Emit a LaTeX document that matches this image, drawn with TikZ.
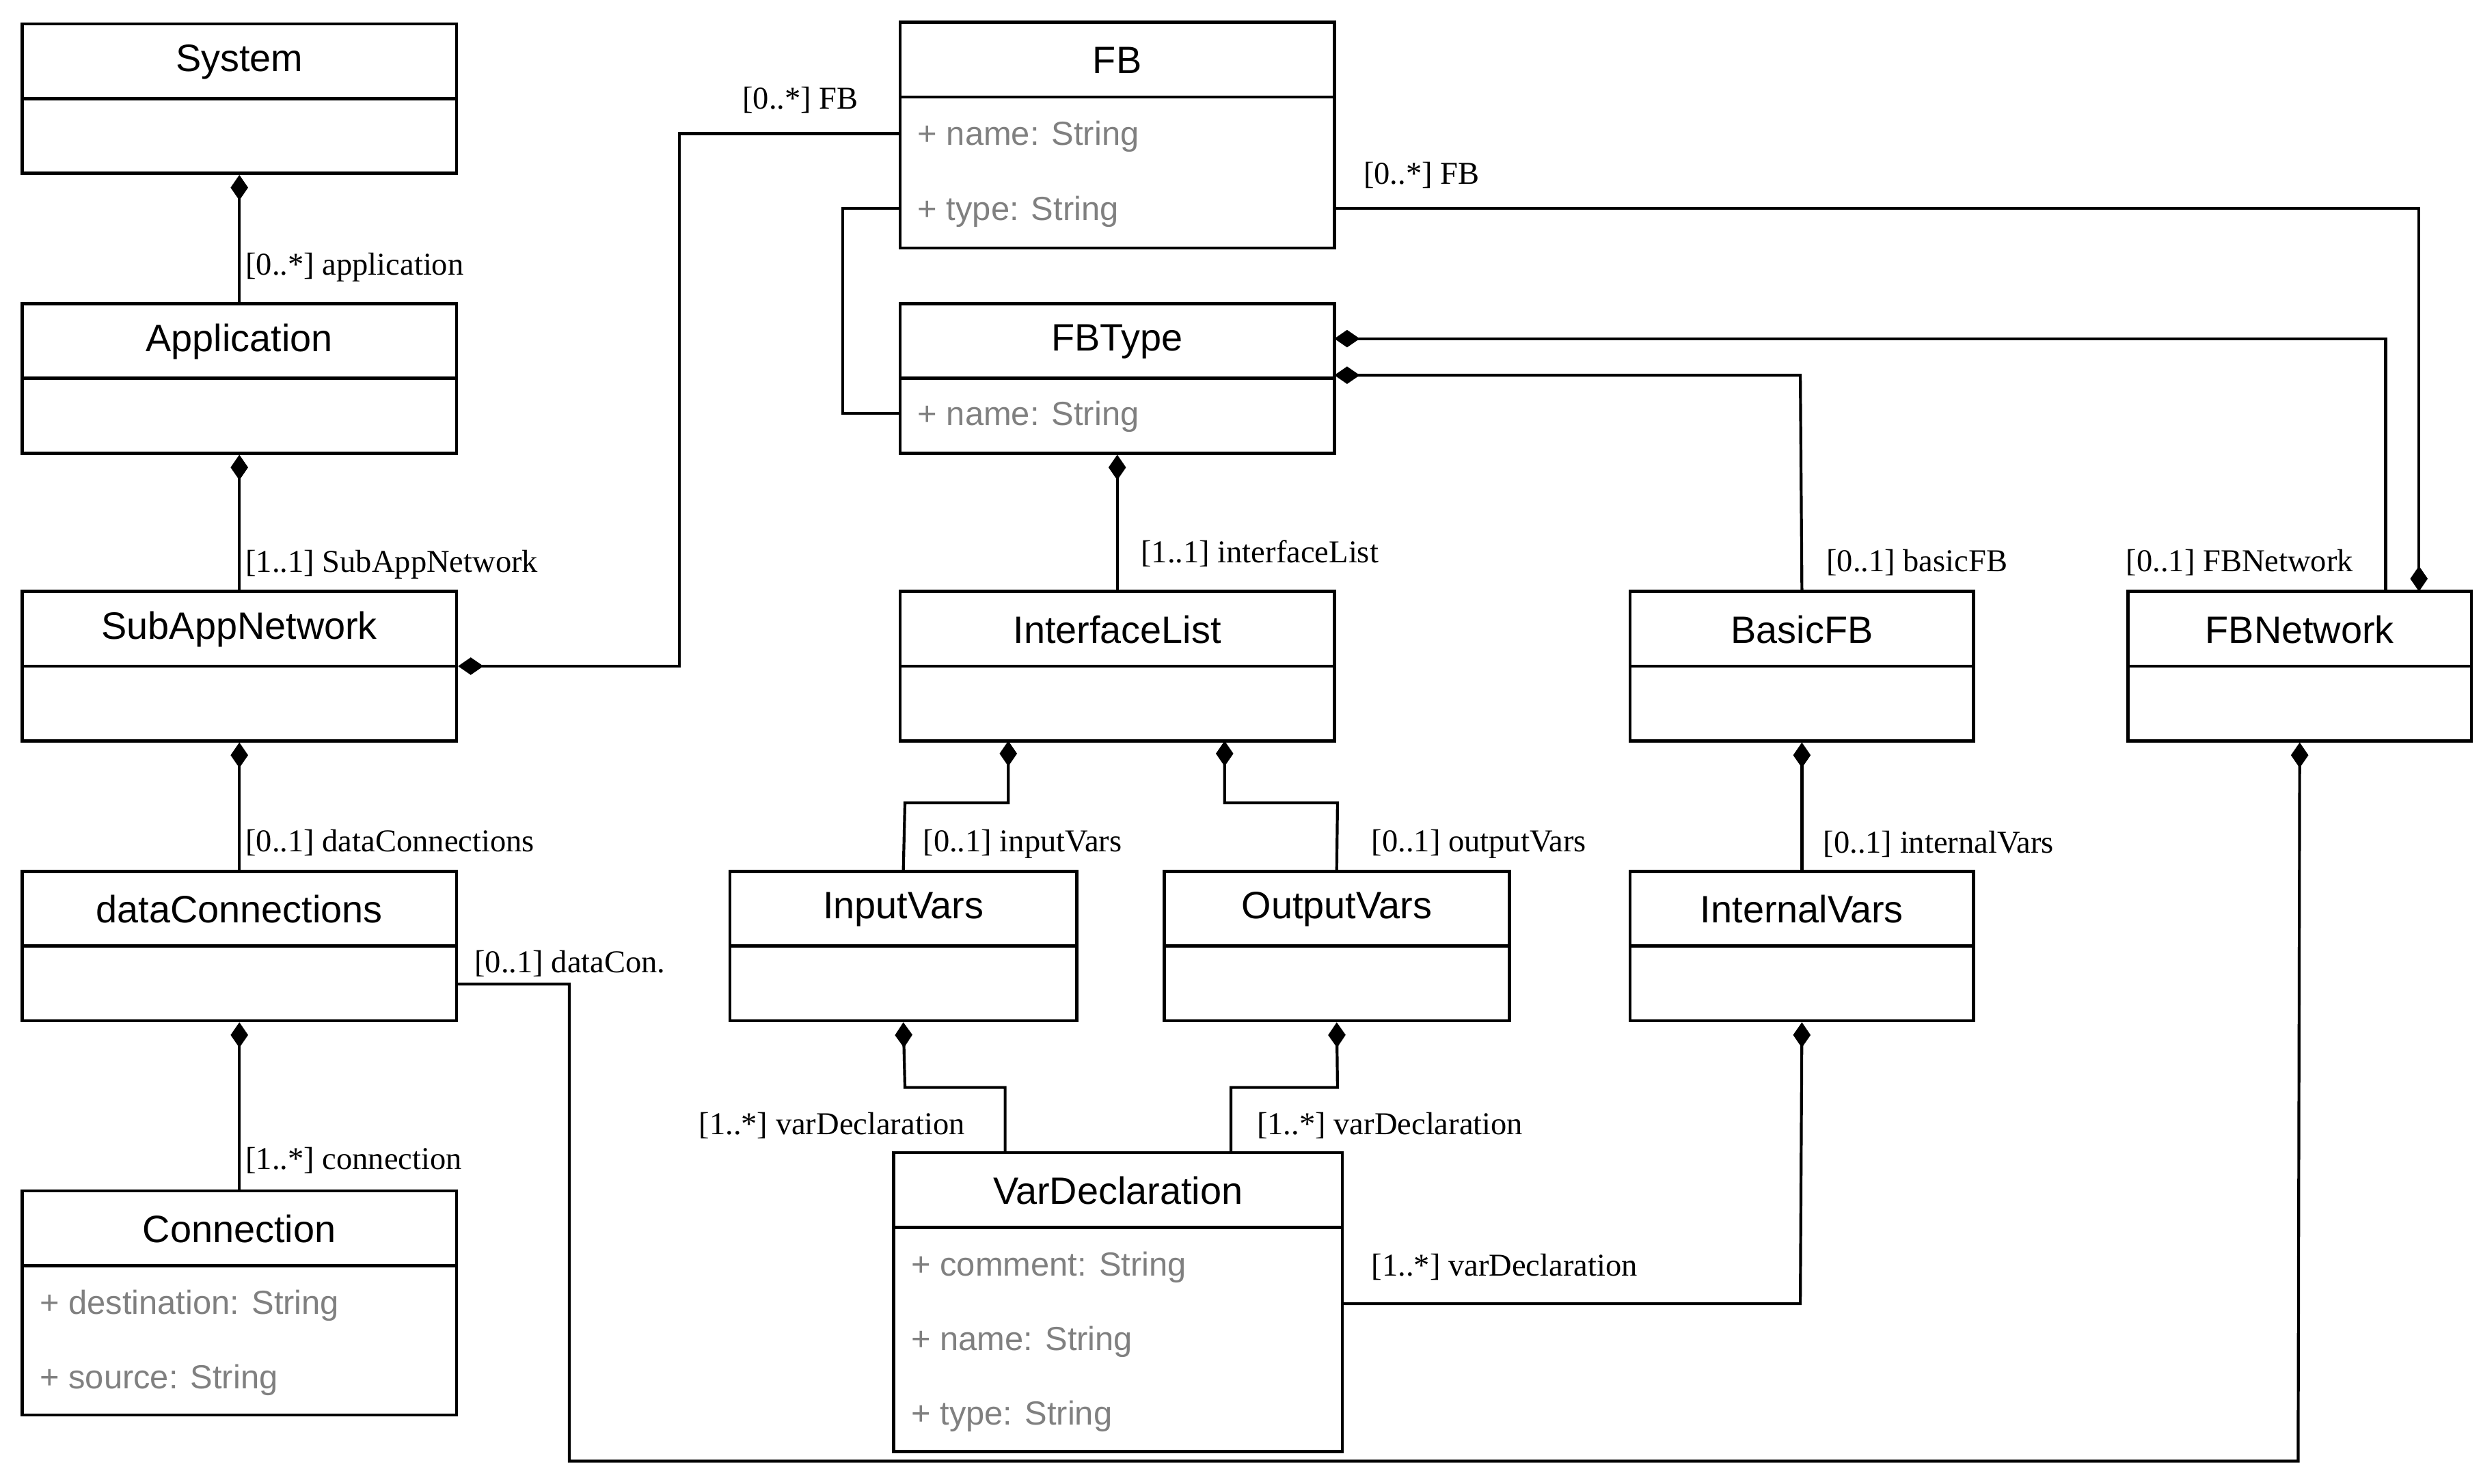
\documentclass[tikz,border=0pt]{standalone}
\usepackage{fontspec}
\setmainfont{Liberation Serif}
\newfontfamily\sans{Liberation Sans}
\usetikzlibrary{arrows.meta,fit}
\tikzset{
  box/.style={draw,line width=1pt,inner sep=0pt},
  ttl/.style={font=\sans\fontsize{12}{14}\selectfont},
  att/.style={font=\sans\fontsize{10.5}{12}\selectfont,text=black!50,anchor=west},
  lab/.style={font=\fontsize{10}{12}\selectfont,inner sep=1pt},
  con/.style={line width=0.9pt},
  comp/.style={con,{Diamond[length=8pt,width=5.5pt]}-},
}
\newcommand{\umlbox}[6]{%
  \node[box,fit={(#2,#3)(#4,#5)}] (#1) {};
  \node[ttl] (#1t) at ({(#2+#4)/2},{#3+24}) {#6};
  \draw[line width=1pt] (#2,{#3+47}) -- (#4,{#3+47});
}
\begin{document}
\begin{tikzpicture}[x=0.5pt,y=-0.5pt]
\useasboundingbox (0,0) rectangle (1560,933);
\umlbox{sys}{14}{15}{287}{109}{System}
\umlbox{app}{14}{191}{287}{285}{Application}
\umlbox{san}{14}{372}{287}{466}{SubAppNetwork}
\umlbox{dc}{14}{548}{287}{642}{dataConnections}
\umlbox{con}{14}{749}{287}{890}{Connection}
\node[att] (c1) at (18,821) {+ destination: String};
\node[att] (c2) at (18,868) {+ source: String};
\umlbox{fb}{566}{14}{839}{156}{FB}
\node[att] (f1) at (570,86) {+ name: String};
\node[att] (f2) at (570,133) {+ type: String};
\umlbox{fbt}{566}{191}{839}{285}{FBType}
\node[att] (t1) at (570,262) {+ name: String};
\umlbox{ifl}{566}{372}{839}{466}{InterfaceList}
\umlbox{bfb}{1025}{372}{1241}{466}{BasicFB}
\umlbox{fbn}{1338}{372}{1554}{466}{FBNetwork}
\umlbox{iv}{459}{548}{677}{642}{InputVars}
\umlbox{ov}{732}{548}{949}{642}{OutputVars}
\umlbox{inv}{1025}{548}{1241}{642}{InternalVars}
\umlbox{vd}{562}{725}{844}{913}{VarDeclaration}
\node[att] (v1) at (566,797) {+ comment: String};
\node[att] (v2) at (566,844) {+ name: String};
\node[att] (v3) at (566,891) {+ type: String};

\draw[comp] (sys.south) -- (app.north);
\node[lab,anchor=west] (l1) at (152,168) {[0..*] application};
\draw[comp] (app.south) -- (san.north);
\node[lab,anchor=west] (l2) at (152,355) {[1..1] SubAppNetwork};
\draw[comp] (san.south) -- (dc.north);
\node[lab,anchor=west] (l3) at (152,530) {[0..1] dataConnections};
\draw[comp] (dc.south) -- (con.north);
\node[lab,anchor=west] (l4) at (152,730) {[1..*] connection};

\draw[comp] (san.east) -- (427,419) -- (427,84) -- (566,84);
\node[lab,anchor=east] (l5) at (542,63) {[0..*] FB};
\draw[con] (566,131) -- (530,131) -- (530,260) -- (566,260);
\draw[comp] (1521,372) -- (1521,131) -- (839,131);
\node[lab,anchor=west] (l6) at (855,110) {[0..*] FB};
\draw[comp] (839,213) -- (1500,213) -- (1500,372);
\node[lab,anchor=east] (l7) at (1482,354) {[0..1] FBNetwork};
\draw[comp] (839,236) -- (1132,236) -- (bfb.north);
\node[lab,anchor=west] (l8) at (1146,354) {[0..1] basicFB};
\draw[comp] (fbt.south) -- (ifl.north);
\node[lab,anchor=west] (l9) at (715,348) {[1..1] interfaceList};
\draw[comp] (634,466) -- (634,505) -- (569,505) -- (iv.north);
\node[lab,anchor=west] (l10) at (578,531) {[0..1] inputVars};
\draw[comp] (770,466) -- (770,505) -- (841,505) -- (ov.north);
\node[lab,anchor=west] (l11) at (860,531) {[0..1] outputVars};
\draw[comp] (bfb.south) -- (inv.north);
\node[lab,anchor=west] (l12) at (1144,531) {[0..1] internalVars};
\draw[comp] (iv.south) -- (569,684) -- (632,684) -- (632,725);
\node[lab,anchor=east] (l13) at (609,708) {[1..*] varDeclaration};
\draw[comp] (ov.south) -- (841,684) -- (774,684) -- (774,725);
\node[lab,anchor=west] (l14) at (788,708) {[1..*] varDeclaration};
\draw[comp] (inv.south) -- (1132,820) -- (844,820);
\node[lab,anchor=west] (l15) at (860,797) {[1..*] varDeclaration};
\draw[comp] (fbn.south) -- (1445,919) -- (358,919) -- (358,619) -- (287,619);
\node[lab,anchor=west] (l16) at (296,606) {[0..1] dataCon.};
\end{tikzpicture}
\end{document}
